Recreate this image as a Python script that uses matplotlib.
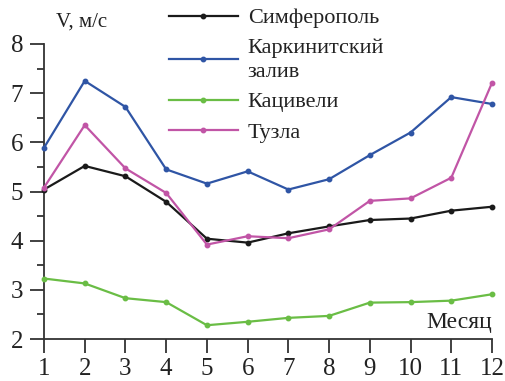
import matplotlib
matplotlib.use('Agg')
from matplotlib import pyplot as plt
from matplotlib.ticker import MultipleLocator

months = list(range(1, 13))

simferopol = [5.04, 5.52, 5.31, 4.79, 4.04, 3.96, 4.15, 4.29, 4.42, 4.45, 4.61, 4.69]
karkinit = [5.89, 7.25, 6.72, 5.45, 5.16, 5.41, 5.04, 5.25, 5.74, 6.20, 6.92, 6.78]
katsiveli = [3.23, 3.13, 2.83, 2.75, 2.28, 2.35, 2.43, 2.47, 2.74, 2.75, 2.78, 2.91]
tuzla = [5.08, 6.35, 5.47, 4.97, 3.92, 4.09, 4.05, 4.23, 4.81, 4.86, 5.28, 7.21]

names = ['Симферополь', 'Каркинитский\nзалив', 'Кацивели', 'Тузла']
series = [simferopol, karkinit, katsiveli, tuzla]
colors = ['#1a1a1a', '#2f55a5', '#6abd45', '#c155a6']

plt.rcParams['font.family'] = ['Liberation Serif', 'DejaVu Serif']

fig = plt.figure(figsize=(5.05, 3.81), dpi=100)
ax = fig.add_axes([44 / 505, 42 / 381, 448 / 505, 295 / 381])

for vals, name, c in zip(series, names, colors):
    ax.plot(months, vals, color=c, lw=1.6, marker='o', ms=3.2, label=name,
            clip_on=False, zorder=3)

ax.set_xlim(1, 12)
ax.set_ylim(2, 8)
ax.set_xticks(months)
ax.yaxis.set_major_locator(MultipleLocator(1))
ax.yaxis.set_minor_locator(MultipleLocator(0.5))

for side in ['top', 'right']:
    ax.spines[side].set_visible(False)
for side in ['left', 'bottom']:
    ax.spines[side].set_linewidth(1.3)
    ax.spines[side].set_color('#333333')

ax.tick_params(which='major', direction='out', length=10, width=1.3,
               color='#333333', labelsize=18, labelcolor='#222222', pad=5)
ax.tick_params(which='minor', direction='out', length=5, width=1.3,
               color='#333333')
ax.tick_params(axis='x', pad=4)

fig.text(56 / 505, 1 - 22 / 381, 'V, м/с', fontsize=15, color='#222222',
         va='center', ha='left')
ax.text(12, 2.12, 'Месяц', fontsize=17, color='#222222', ha='right', va='bottom')

leg = fig.legend(loc='upper left', bbox_to_anchor=(160 / 505, 1 + 1 / 381),
                 fontsize=16, frameon=False, handlelength=3.1,
                 handletextpad=0.45, labelspacing=0.45, borderaxespad=0)
for t in leg.get_texts():
    t.set_color('#222222')
    t.set_linespacing(1.35)

fig.savefig('out.png', dpi=100)
